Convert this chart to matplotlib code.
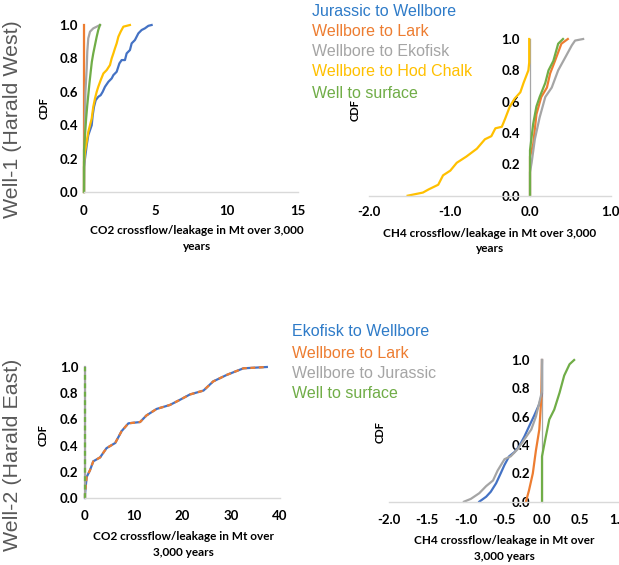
import matplotlib
matplotlib.use("Agg")
import matplotlib.pyplot as plt

W, H = 619, 565

# ---------------- data ----------------
# Well-1, CO2 (Mt)
w1_co2_jur_x = [0, 0, 0.07, 0.19, 0.30, 0.42, 0.54, 0.61, 0.70, 0.82, 1.00, 1.17, 1.31, 1.47, 1.71, 1.94, 2.06, 2.29, 2.48, 2.64, 2.87, 2.99, 3.22, 3.34, 3.57, 3.81, 4.04, 4.27, 4.51, 4.74]
w1_co2_jur_y = [0, 0.15, 0.20, 0.28, 0.34, 0.37, 0.40, 0.46, 0.51, 0.55, 0.57, 0.58, 0.60, 0.63, 0.66, 0.68, 0.70, 0.72, 0.77, 0.79, 0.79, 0.83, 0.85, 0.89, 0.91, 0.95, 0.97, 0.98, 0.995, 1.0]
w1_co2_lark_x = [0, 0]
w1_co2_lark_y = [0, 1.0]
w1_co2_eko_x = [0, 0.05, 0.07, 0.10, 0.19, 0.23, 0.30, 0.42, 0.65, 0.89, 1.12]
w1_co2_eko_y = [0, 0.30, 0.45, 0.60, 0.74, 0.84, 0.92, 0.96, 0.98, 0.99, 1.0]
w1_co2_hod_x = [0, 0, 0.07, 0.19, 0.30, 0.42, 0.54, 0.65, 0.77, 0.89, 1.00, 1.17, 1.36, 1.59, 1.82, 1.94, 2.06, 2.17, 2.29, 2.41, 2.57, 2.76, 3.22]
w1_co2_hod_y = [0, 0.18, 0.24, 0.30, 0.36, 0.40, 0.44, 0.51, 0.56, 0.60, 0.63, 0.67, 0.71, 0.73, 0.76, 0.80, 0.83, 0.86, 0.89, 0.93, 0.96, 0.99, 1.0]
w1_co2_surf_x = [0, 0, 0.07, 0.15, 0.23, 0.30, 0.38, 0.47, 0.55, 0.65, 0.77, 0.89, 1.00, 1.12]
w1_co2_surf_y = [0, 0.25, 0.34, 0.44, 0.52, 0.58, 0.65, 0.72, 0.78, 0.83, 0.88, 0.93, 0.97, 1.0]

# Well-1, CH4 (Mt)
w1_ch4_lark_x = [0, 0, 0.04, 0.08, 0.14, 0.21, 0.25, 0.31, 0.39, 0.47]
w1_ch4_lark_y = [0, 0.25, 0.33, 0.52, 0.63, 0.69, 0.78, 0.86, 0.97, 1.0]
w1_ch4_eko_x = [0, 0, 0.02, 0.06, 0.12, 0.19, 0.27, 0.35, 0.43, 0.52, 0.56, 0.66]
w1_ch4_eko_y = [0, 0.15, 0.21, 0.36, 0.50, 0.63, 0.69, 0.80, 0.875, 0.96, 0.99, 1.0]
w1_ch4_hod_x = [-1.52, -1.33, -1.26, -1.14, -1.08, -0.99, -0.91, -0.79, -0.66, -0.56, -0.48, -0.43, -0.35, -0.31, -0.25, -0.19, -0.12, -0.08, -0.02, -0.01, -0.01]
w1_ch4_hod_y = [0.0, 0.02, 0.04, 0.07, 0.13, 0.16, 0.21, 0.25, 0.30, 0.36, 0.38, 0.43, 0.44, 0.49, 0.57, 0.62, 0.66, 0.72, 0.80, 0.85, 1.0]
w1_ch4_surf_x = [0, 0, 0.04, 0.08, 0.12, 0.19, 0.23, 0.29, 0.35, 0.41]
w1_ch4_surf_y = [0, 0.29, 0.46, 0.57, 0.63, 0.72, 0.80, 0.86, 0.97, 1.0]

# Well-2, CO2 (Mt)
w2_co2_eko_x = [0, 0, 0.34, 1.0, 1.7, 3.1, 4.4, 6.2, 7.5, 8.9, 11.3, 12.6, 14.7, 17.4, 19.5, 21.5, 24.3, 26.3, 29.1, 32.5, 37.3]
w2_co2_eko_y = [0, 0.03, 0.16, 0.21, 0.28, 0.31, 0.38, 0.42, 0.51, 0.57, 0.58, 0.63, 0.68, 0.71, 0.75, 0.79, 0.82, 0.89, 0.94, 0.99, 1.0]
w2_co2_lark_x = list(w2_co2_eko_x)
w2_co2_lark_y = list(w2_co2_eko_y)
w2_co2_jur_x = [0, 0]
w2_co2_jur_y = [0, 1.0]
w2_co2_surf_x = [0, 0]
w2_co2_surf_y = [0, 1.0]

# Well-2, CH4 (Mt)
w2_ch4_eko_x = [-0.82, -0.73, -0.67, -0.60, -0.54, -0.49, -0.43, -0.36, -0.30, -0.23, -0.17, -0.10, -0.035, 0, 0]
w2_ch4_eko_y = [0, 0.035, 0.07, 0.13, 0.20, 0.26, 0.32, 0.35, 0.39, 0.46, 0.53, 0.61, 0.69, 0.76, 1.0]
w2_ch4_lark_x = [-0.21, -0.17, -0.12, -0.08, -0.035, -0.01, 0]
w2_ch4_lark_y = [0, 0.08, 0.20, 0.36, 0.51, 0.72, 1.0]
w2_ch4_jur_x = [-1.02, -0.93, -0.82, -0.73, -0.64, -0.58, -0.49, -0.41, -0.32, -0.23, -0.14, -0.08, -0.035, 0, 0]
w2_ch4_jur_y = [0, 0.02, 0.06, 0.11, 0.15, 0.22, 0.30, 0.32, 0.37, 0.44, 0.51, 0.60, 0.70, 0.78, 1.0]
w2_ch4_surf_x = [0, 0, 0.05, 0.095, 0.16, 0.23, 0.29, 0.36, 0.42]
w2_ch4_surf_y = [0, 0.32, 0.46, 0.58, 0.65, 0.77, 0.89, 0.97, 1.0]

legend1 = ["Jurassic to Wellbore", "Wellbore to Lark", "Wellbore to Ekofisk", "Wellbore to Hod Chalk", "Well to surface"]
legend2 = ["Ekofisk to Wellbore", "Wellbore to Lark", "Wellbore to Jurassic", "Well to surface"]
row_labels = ["Well-1 (Harald West)", "Well-2 (Harald East)"]
y_ticks = [0.0, 0.2, 0.4, 0.6, 0.8, 1.0]

BLUE, ORANGE, GRAY, YELLOW, GREEN = "#4472C4", "#ED7D31", "#A5A5A5", "#FFC000", "#70AD47"
LEG_BLUE = "#2E7BC8"
TICKFONT = dict(family="Lato", weight="bold", size=9.5)
LW = 1.6

fig = plt.figure(figsize=(W / 100, H / 100), dpi=100)


def ax_at(x0, x1, ytop, ybot):
    return fig.add_axes([x0 / W, (H - ybot) / H, (x1 - x0) / W, (ybot - ytop) / H])


def style(ax, xlim, xticks, xfmt, xpad, ypad, yaxis_at_zero=False):
    ax.set_xlim(*xlim)
    ax.set_ylim(0, 1)
    for s in ["top", "right"]:
        ax.spines[s].set_visible(False)
    ax.spines["bottom"].set_color("#D9D9D9")
    ax.spines["bottom"].set_linewidth(1.0)
    if yaxis_at_zero:
        ax.spines["left"].set_position(("data", 0))
        ax.spines["left"].set_color("#A6A6A6")
        ax.spines["left"].set_linewidth(0.9)
    else:
        ax.spines["left"].set_color("#D9D9D9")
    ax.spines["left"].set_zorder(0.5)
    ax.set_xticks(xticks)
    ax.set_xticklabels([xfmt.format(v) for v in xticks], fontdict=TICKFONT)
    ax.set_yticks(y_ticks)
    ax.set_yticklabels(["{:.1f}".format(v) for v in y_ticks], fontdict=TICKFONT)
    ax.tick_params(axis="both", length=0)
    ax.tick_params(axis="x", pad=xpad)
    ax.tick_params(axis="y", pad=ypad)
    for lab in ax.get_xticklabels():
        lab.set_verticalalignment("baseline")
    ax.patch.set_alpha(0)


def plot(ax, x, y, color, ls="-"):
    ax.plot(x, y, color=color, lw=LW, ls=ls, clip_on=False, solid_joinstyle="round")


# ---- top-left: Well-1 CO2 (series order as in legend) ----
ax1 = ax_at(84, 298, 25, 192)
style(ax1, (0, 15), [0, 5, 10, 15], "{:.0f}", 16.5, 4.3)
plot(ax1, w1_co2_jur_x, w1_co2_jur_y, BLUE)
plot(ax1, w1_co2_lark_x, w1_co2_lark_y, ORANGE)
plot(ax1, w1_co2_eko_x, w1_co2_eko_y, GRAY)
plot(ax1, w1_co2_hod_x, w1_co2_hod_y, YELLOW)
plot(ax1, w1_co2_surf_x, w1_co2_surf_y, GREEN)

# ---- top-right: Well-1 CH4 ----
ax2 = ax_at(369, 610.5, 39, 195.7)
style(ax2, (-2, 1), [-2, -1, 0, 1], "{:.1f}", 14.8, 7.2, yaxis_at_zero=True)
plot(ax2, w1_ch4_lark_x, w1_ch4_lark_y, ORANGE)
plot(ax2, w1_ch4_eko_x, w1_ch4_eko_y, GRAY)
plot(ax2, w1_ch4_hod_x, w1_ch4_hod_y, YELLOW)
plot(ax2, w1_ch4_surf_x, w1_ch4_surf_y, GREEN)

# ---- bottom-left: Well-2 CO2 ----
ax3 = ax_at(85, 280, 367, 498)
style(ax3, (0, 40), [0, 10, 20, 30, 40], "{:.0f}", 16.2, 4.8)
plot(ax3, w2_co2_eko_x, w2_co2_eko_y, BLUE)
plot(ax3, w2_co2_lark_x, w2_co2_lark_y, ORANGE, ls=(0, (2.2, 1.6)))
plot(ax3, w2_co2_jur_x, w2_co2_jur_y, GRAY)
plot(ax3, w2_co2_surf_x, w2_co2_surf_y, GREEN, ls=(0, (2.2, 1.6)))

# ---- bottom-right: Well-2 CH4 ----
ax4 = ax_at(389, 618.5, 360, 501.7)
style(ax4, (-2, 1), [-2, -1.5, -1, -0.5, 0, 0.5, 1.0], "{:.1f}", 16.4, 8.6, yaxis_at_zero=True)
plot(ax4, w2_ch4_eko_x, w2_ch4_eko_y, BLUE)
plot(ax4, w2_ch4_lark_x, w2_ch4_lark_y, ORANGE)
plot(ax4, w2_ch4_jur_x, w2_ch4_jur_y, GRAY)
plot(ax4, w2_ch4_surf_x, w2_ch4_surf_y, GREEN)


def ftext(x, y, s, **kw):
    fig.text(x / W, 1 - y / H, s, **kw)


LABFONT = dict(family="Lato", weight="bold", fontsize=8.5, ha="center", va="center")
# x-axis titles
ftext(197, 231, "CO2 crossflow/leakage in Mt over 3,000", **LABFONT)
ftext(197, 246, "years", **LABFONT)
ftext(490, 233, "CH4 crossflow/leakage in Mt over 3,000", **LABFONT)
ftext(490, 248, "years", **LABFONT)
ftext(183, 537, "CO2 crossflow/leakage in Mt over", **LABFONT)
ftext(183, 552, "3,000 years", **LABFONT)
ftext(504, 540, "CH4 crossflow/leakage in Mt over", **LABFONT)
ftext(504, 556, "3,000 years", **LABFONT)

# CDF labels
CDF = dict(family="Lato", weight="bold", fontsize=8, ha="center", va="center", rotation=90)
ftext(44, 108, "CDF", **CDF)
ftext(355, 110, "CDF", **CDF)
ftext(43, 435, "CDF", **CDF)
ftext(380, 432, "CDF", **CDF)

# Row labels
ROW = dict(family="Liberation Sans", fontsize=15.4, color="#595959", ha="center", va="center", rotation=90)
ftext(13, 119, row_labels[0], **ROW)
ftext(13, 455, row_labels[1], **ROW)

# Legends (coloured text)
LEG = dict(family="Liberation Sans", fontsize=11.5, ha="left", va="center")
for txt, col, yy in zip(legend1, [LEG_BLUE, ORANGE, GRAY, YELLOW, GREEN], [11, 32, 52, 72, 93]):
    ftext(312, yy, txt, color=col, **LEG)
for txt, col, yy in zip(legend2, [LEG_BLUE, ORANGE, GRAY, GREEN], [331, 353, 374, 394]):
    ftext(292, yy, txt, color=col, **LEG)

fig.savefig("out.png", dpi=100)
